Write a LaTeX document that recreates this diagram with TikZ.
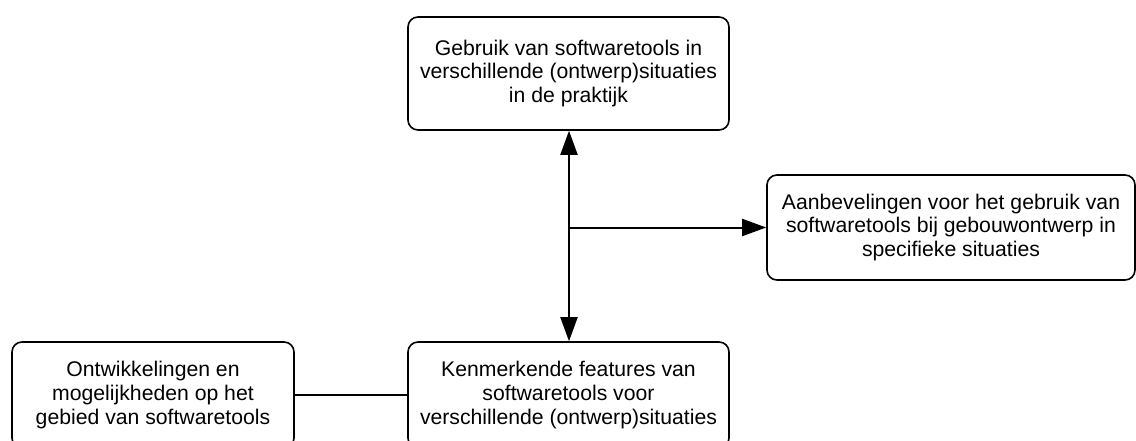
\documentclass[tikz,border=0pt]{standalone}
\usepackage{fontspec}
\setmainfont{Liberation Sans}
\usetikzlibrary{arrows.meta}
\begin{document}
\begin{tikzpicture}[x=1pt,y=-1pt,
  box/.style={draw=black, line width=1.6pt, rounded corners=10pt, inner sep=0pt,
    align=center, font=\fontsize{21.2pt}{23.6pt}\selectfont},
  conn/.style={line width=2pt},
  tip/.style={-{Triangle[length=24pt,width=17pt]}},
  tips/.style={{Triangle[length=24pt,width=17pt]}-{Triangle[length=24pt,width=17pt]}}]
\useasboundingbox (0,0) rectangle (1136,441);
\node[box, minimum width=321pt, minimum height=113pt] (top) at (568.5,73.5)
  {Gebruik van softwaretools in\\verschillende (ontwerp)situaties\\in de praktijk};
\node[box, minimum width=368pt, minimum height=105pt] (right) at (951,227.5)
  {Aanbevelingen voor het gebruik van\\softwaretools bij gebouwontwerp in\\specifieke situaties};
\node[box, minimum width=321pt, minimum height=106pt] (mid) at (568.5,395)
  {Kenmerkende features van\\softwaretools voor\\verschillende (ontwerp)situaties};
\node[box, minimum width=282pt, minimum height=106pt] (left) at (153,395)
  {Ontwikkelingen en\\mogelijkheden op het\\gebied van softwaretools};
\draw[conn, tips] (top.south -| 569,0) -- (mid.north -| 569,0);
\coordinate (j) at (569,227.5);
\draw[conn, tip] (j) -- (right.west);
\draw[conn] (left.east) -- (mid.west);
\end{tikzpicture}
\end{document}
